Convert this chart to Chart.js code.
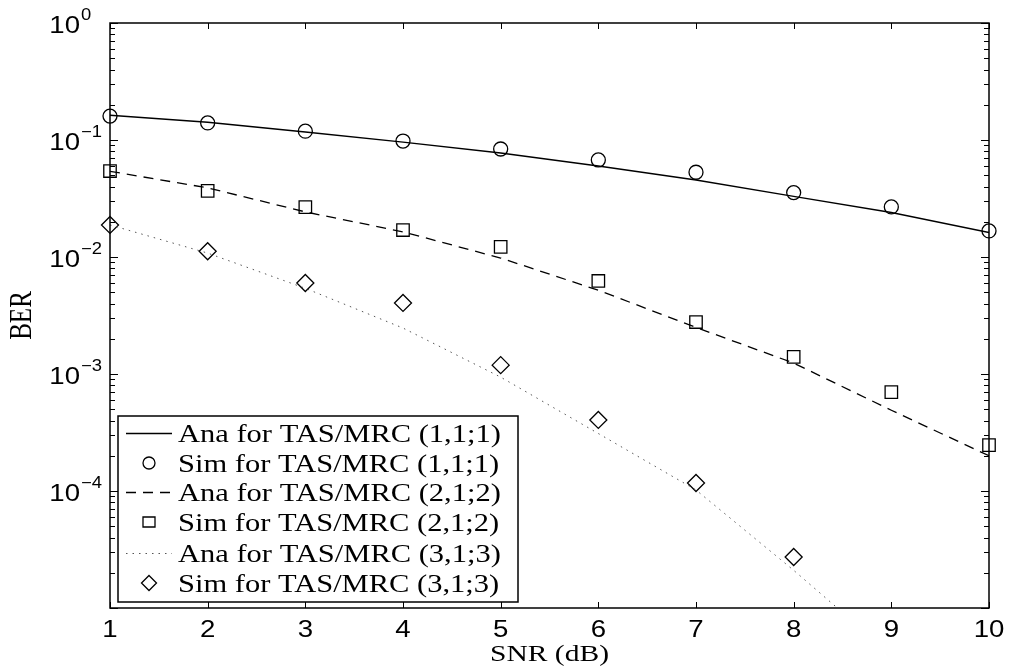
<!DOCTYPE html>
<html>
<head>
<meta charset="utf-8">
<script src="https://cdn.jsdelivr.net/npm/chart.js@4"></script>
<style>
  body { margin: 0; background: #fff; }
  #wrap { width: 1009px; height: 668px; }
</style>
</head>
<body>
<div id="wrap"><canvas id="ber-chart" width="1009" height="668"></canvas></div>
<script>
// SNR points (dB)
const snr = [1, 2, 3, 4, 5, 6, 7, 8, 9, 10];

// BER values
const anaTas111 = [0.163, 0.142, 0.117, 0.096, 0.0775, 0.060, 0.0455, 0.033, 0.024, 0.0162];
const simTas111 = [0.160, 0.140, 0.119, 0.098, 0.0838, 0.0675, 0.053, 0.0355, 0.0268, 0.0167];
const anaTas212 = [0.054, 0.039, 0.0243, 0.0164, 0.0098, 0.0052, 0.0025, 0.00124, 0.00049, 0.00020];
const simTas212 = [0.0543, 0.0367, 0.0267, 0.0170, 0.0122, 0.00624, 0.00278, 0.00140, 0.00070, 0.000247];
const anaTas313 = [0.0188, 0.0108, 0.0054, 0.00247, 0.00094, 0.00031, 0.000102, 0.000021, 0.000004, 0.0000006];
const simTas313 = [0.0188, 0.0112, 0.0060, 0.00405, 0.00119, 0.000405, 0.000117, 0.0000273];

// axis ticks
const xTicks = [1, 2, 3, 4, 5, 6, 7, 8, 9, 10];
const yDecades = [0, -1, -2, -3, -4, -5];
const yLabelExps = ["0", "\u22121", "\u22122", "\u22123", "\u22124"];

const SANS = "'Liberation Sans', Arial, sans-serif";
const SERIF = "'Liberation Serif', 'Times New Roman', serif";

function pts(values) {
    return values.map((v, i) => ({ x: snr[i], y: v }));
}

// text with a little horizontal stretch, like the source image
function drawText(ctx, str, x, y, font, align, sx) {
    ctx.save();
    ctx.font = font;
    ctx.textAlign = align;
    ctx.textBaseline = "alphabetic";
    ctx.translate(x, y);
    ctx.scale(sx, 1);
    ctx.fillText(str, 0, 0);
    ctx.restore();
}

function drawMarker(ctx, style, x, y) {
    ctx.beginPath();
    if (style === "circle") {
        ctx.arc(x, y, 6, 0, Math.PI * 2);
    } else if (style === "rect") {
        ctx.rect(x - 6, y - 5, 12, 10);
    } else if (style === "rectRot") {
        ctx.moveTo(x, y - 7.5);
        ctx.lineTo(x + 7.5, y);
        ctx.lineTo(x, y + 7.5);
        ctx.lineTo(x - 7.5, y);
        ctx.closePath();
    }
    ctx.stroke();
}

// MATLAB style box, inward ticks and tick labels
const axisDecor = {
    id: "axisDecor",
    afterDatasetsDraw(chart) {
        const { ctx, chartArea: a, scales } = chart;
        const xs = scales.x, ys = scales.y;
        ctx.save();
        ctx.strokeStyle = "#000";
        ctx.fillStyle = "#000";

        ctx.lineWidth = 1;
        ctx.beginPath();
        xTicks.forEach(v => {
            const px = Math.round(xs.getPixelForValue(v)) + 0.5;
            ctx.moveTo(px, a.bottom); ctx.lineTo(px, a.bottom - 6);
            ctx.moveTo(px, a.top); ctx.lineTo(px, a.top + 6);
        });
        yDecades.forEach(e => {
            const py = Math.round(ys.getPixelForValue(Math.pow(10, e))) + 0.5;
            ctx.moveTo(a.left, py); ctx.lineTo(a.left + 8, py);
            ctx.moveTo(a.right, py); ctx.lineTo(a.right - 8, py);
            if (e < 0) {
                for (let m = 2; m <= 9; m++) {
                    const pm = Math.round(ys.getPixelForValue(m * Math.pow(10, e))) + 0.5;
                    ctx.moveTo(a.left, pm); ctx.lineTo(a.left + 5, pm);
                    ctx.moveTo(a.right, pm); ctx.lineTo(a.right - 5, pm);
                }
            }
        });
        ctx.stroke();

        ctx.lineWidth = 1.5;
        ctx.strokeRect(a.left, a.top, a.right - a.left, a.bottom - a.top);

        // x tick labels
        xTicks.forEach(v => {
            drawText(ctx, String(v), xs.getPixelForValue(v), a.bottom + 29, "24px " + SANS, "center", 1.15);
        });
        // y tick labels 10^n
        yLabelExps.forEach((ex, i) => {
            const py = ys.getPixelForValue(Math.pow(10, yDecades[i]));
            drawText(ctx, "10", 80, py + 10, "24px " + SANS, "right", 1.15);
            drawText(ctx, ex, 81, py - 3, "16px " + SANS, "left", 1.15);
        });

        // axis titles
        drawText(ctx, "SNR (dB)", (a.left + a.right) / 2, 661, "24px " + SERIF, "center", 1.23);
        ctx.save();
        ctx.translate(23, (a.top + a.bottom) / 2);
        ctx.rotate(-Math.PI / 2);
        ctx.scale(1, 1.23);
        ctx.font = "25px " + SERIF;
        ctx.textAlign = "center";
        ctx.textBaseline = "middle";
        ctx.fillText("BER", 0, 0);
        ctx.restore();
        ctx.restore();
    },
    afterDraw(chart) {
        // legend box in the lower left corner
        const ctx = chart.ctx;
        const box = { left: 118, top: 416, right: 518, bottom: 602 };
        const rows = [433, 463, 492, 522, 553, 583];
        ctx.save();
        ctx.fillStyle = "#fff";
        ctx.fillRect(box.left, box.top, box.right - box.left, box.bottom - box.top);
        ctx.strokeStyle = "#000";
        ctx.lineWidth = 1.5;
        ctx.strokeRect(box.left, box.top, box.right - box.left, box.bottom - box.top);

        chart.data.datasets.forEach((ds, i) => {
            const y = rows[i];
            ctx.save();
            ctx.strokeStyle = ds.borderColor;
            if (ds.showLine === false) {
                ctx.lineWidth = 1.3;
                drawMarker(ctx, ds.pointStyle, 149, y);
            } else {
                ctx.lineWidth = ds.borderWidth;
                ctx.setLineDash(ds.borderDash || []);
                ctx.beginPath();
                ctx.moveTo(126, y + 0.5);
                ctx.lineTo(172, y + 0.5);
                ctx.stroke();
            }
            ctx.restore();
            ctx.fillStyle = "#000";
            drawText(ctx, ds.label, 178, y + 8.5, "25px " + SERIF, "left", 1.22);
        });
        ctx.restore();
    }
};

const lineBase = { borderColor: "#000", pointRadius: 0, fill: false, tension: 0 };
const markBase = { borderColor: "#000", backgroundColor: "rgba(0,0,0,0)", showLine: false, pointBorderWidth: 1.3, clip: false };

new Chart(document.getElementById("ber-chart"), {
    type: "line",
    data: {
        datasets: [
            { ...lineBase, label: "Ana for TAS/MRC (1,1;1)", data: pts(anaTas111), borderWidth: 1.4 },
            { ...markBase, label: "Sim for TAS/MRC (1,1;1)", data: pts(simTas111), pointStyle: "circle", pointRadius: 7 },
            { ...lineBase, label: "Ana for TAS/MRC (2,1;2)", data: pts(anaTas212), borderWidth: 1.3, borderDash: [10, 7] },
            { ...markBase, label: "Sim for TAS/MRC (2,1;2)", data: pts(simTas212), pointStyle: "rect", pointRadius: 8.8 },
            { ...lineBase, label: "Ana for TAS/MRC (3,1;3)", data: pts(anaTas313), borderWidth: 1, borderColor: "#555", borderDash: [1.5, 5] },
            { ...markBase, label: "Sim for TAS/MRC (3,1;3)", data: pts(simTas313), pointStyle: "rectRot", pointRadius: 8.5 }
        ]
    },
    options: {
        responsive: false,
        devicePixelRatio: 1,
        animation: false,
        events: [],
        layout: { padding: { top: 23, right: 20, left: 0, bottom: 0 } },
        plugins: { legend: { display: false }, tooltip: { enabled: false } },
        scales: {
            x: {
                type: "linear", min: 1, max: 10,
                grid: { display: false }, border: { display: false },
                ticks: { display: false },
                afterFit: s => { s.height = 60; }
            },
            y: {
                type: "logarithmic", min: 1e-5, max: 1,
                grid: { display: false }, border: { display: false },
                ticks: { display: false },
                afterFit: s => { s.width = 110; }
            }
        }
    },
    plugins: [axisDecor]
});
</script>
</body>
</html>
